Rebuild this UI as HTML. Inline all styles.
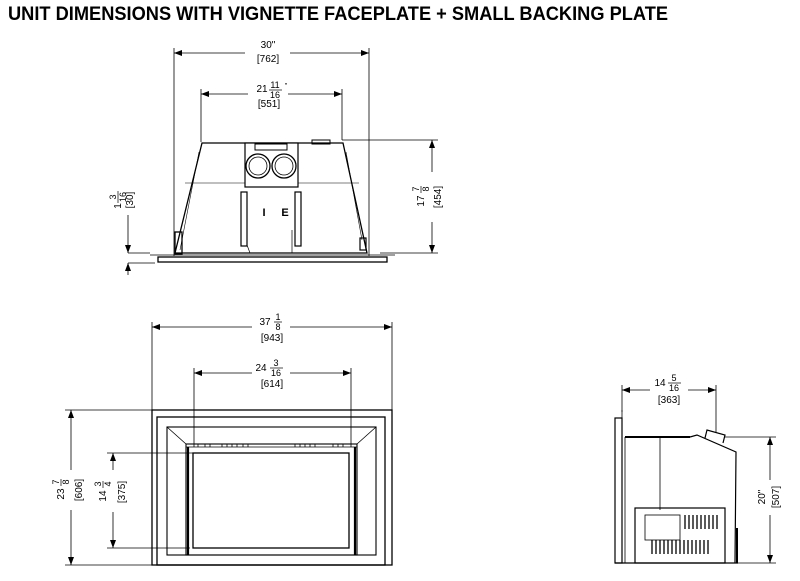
<!DOCTYPE html>
<html><head><style>html,body{margin:0;padding:0;background:#fff}svg{display:block}</style></head>
<body>
<svg width="800" height="581" viewBox="0 0 800 581" xmlns="http://www.w3.org/2000/svg" font-family="Liberation Sans, sans-serif">
<defs>
<marker id="a" markerWidth="8" markerHeight="6" refX="8" refY="3" orient="auto-start-reverse" markerUnits="userSpaceOnUse"><path d="M0,0 L8,3 L0,6 Z" fill="#000"/></marker>
</defs>
<text x="8" y="20" font-size="19" font-weight="bold" textLength="660" lengthAdjust="spacingAndGlyphs">UNIT DIMENSIONS WITH VIGNETTE FACEPLATE + SMALL BACKING PLATE</text>

<g stroke="#000" fill="none" stroke-width="0.8">
<!-- TOP VIEW -->
<line x1="174" y1="48" x2="174" y2="256"/><line x1="369" y1="48" x2="369" y2="256"/>
<line x1="174" y1="53" x2="245" y2="53" marker-start="url(#a)"/><line x1="290" y1="53" x2="369" y2="53" marker-end="url(#a)"/>
<line x1="201" y1="89" x2="201" y2="142"/><line x1="342" y1="89" x2="342" y2="140"/>
<line x1="342" y1="140" x2="438" y2="140"/>
<line x1="201" y1="94" x2="248" y2="94" marker-start="url(#a)"/><line x1="288" y1="94" x2="342" y2="94" marker-end="url(#a)"/>
<path d="M202,143 L343,143 L367,253 L175,253 Z" stroke-width="1.3"/>
<path d="M199,152 L180,250 M346,152 L362,240" stroke-width="0.6"/>
<line x1="185" y1="183" x2="359" y2="183" stroke-width="0.6"/>
<rect x="245" y="143" width="53" height="44" fill="#fff" stroke-width="1.2"/>
<rect x="255" y="144" width="32" height="6" stroke-width="1"/>
<rect x="312" y="140" width="18" height="4" stroke-width="1"/>
<circle cx="258" cy="166" r="12" stroke-width="1.3"/><circle cx="258" cy="166" r="9"/>
<circle cx="284" cy="166" r="12" stroke-width="1.3"/><circle cx="284" cy="166" r="9"/>
<rect x="241" y="192" width="6" height="54" stroke-width="1.2"/>
<rect x="295" y="192" width="6" height="54" stroke-width="1.2"/>
<path d="M247,245 L250,253 M292,230 L292,253" stroke-width="0.7"/>
<rect x="175" y="232" width="7" height="22" stroke-width="1.3"/>
<rect x="360" y="238" width="6" height="12" stroke-width="1.2"/>
<line x1="150" y1="255" x2="395" y2="255"/>
<rect x="158" y="257" width="229" height="5" stroke-width="1.3"/>
<line x1="128" y1="253" x2="150" y2="253"/><line x1="128" y1="263" x2="155" y2="263"/>
<line x1="128" y1="215" x2="128" y2="253" marker-end="url(#a)"/>
<line x1="128" y1="275" x2="128" y2="263" marker-end="url(#a)"/>
<line x1="432" y1="140" x2="432" y2="172" marker-start="url(#a)"/><line x1="432" y1="222" x2="432" y2="253" marker-end="url(#a)"/>
<line x1="380" y1="253" x2="438" y2="253"/>

<!-- FRONT VIEW -->
<line x1="152" y1="322" x2="152" y2="410"/><line x1="392" y1="322" x2="392" y2="410"/>
<line x1="152" y1="327" x2="252" y2="327" marker-start="url(#a)"/><line x1="290" y1="327" x2="392" y2="327" marker-end="url(#a)"/>
<line x1="194" y1="368" x2="194" y2="447"/><line x1="351" y1="368" x2="351" y2="447"/>
<line x1="194" y1="373" x2="252" y2="373" marker-start="url(#a)"/><line x1="290" y1="373" x2="351" y2="373" marker-end="url(#a)"/>
<rect x="152" y="410" width="240" height="155" stroke-width="1.3"/>
<rect x="157" y="417" width="228" height="148" stroke-width="1.3"/>
<rect x="167" y="427" width="209" height="128" stroke-width="1.1"/>
<rect x="186" y="444" width="171" height="111" stroke-width="1.1"/>
<line x1="167" y1="427" x2="186" y2="444"/><line x1="376" y1="427" x2="357" y2="444"/>
<line x1="186" y1="447" x2="357" y2="447"/>
<path d="M198,444v3M205,444v3M210,444v3M222,444v3M227,444v3M232,444v3M237,444v3M243,444v3M248,444v3M295,444v3M300,444v3M305,444v3M310,444v3M315,444v3M333,444v3M338,444v3M343,444v3"/>
<rect x="193" y="453" width="156" height="95" stroke-width="1.3"/>
<line x1="188" y1="447" x2="188" y2="555" stroke-width="2.2"/><line x1="355" y1="447" x2="355" y2="555" stroke-width="2.2"/>
<line x1="65" y1="410" x2="152" y2="410"/><line x1="65" y1="565" x2="152" y2="565"/>
<line x1="71" y1="410" x2="71" y2="470" marker-start="url(#a)"/><line x1="71" y1="510" x2="71" y2="565" marker-end="url(#a)"/>
<line x1="107" y1="453" x2="193" y2="453"/><line x1="107" y1="548" x2="190" y2="548"/>
<line x1="113" y1="453" x2="113" y2="470" marker-start="url(#a)"/><line x1="113" y1="512" x2="113" y2="548" marker-end="url(#a)"/>

<!-- SIDE VIEW -->
<line x1="622" y1="385" x2="622" y2="412"/><line x1="716" y1="385" x2="716" y2="433"/>
<line x1="622" y1="390" x2="650" y2="390" marker-start="url(#a)"/><line x1="688" y1="390" x2="716" y2="390" marker-end="url(#a)"/>
<rect x="615" y="418" width="7" height="145" stroke-width="1.2"/>
<line x1="622" y1="410" x2="622" y2="418"/>
<line x1="625" y1="437" x2="690" y2="437" stroke-width="2"/>
<path d="M690,437 L697,435 L736,452 L735,563" stroke-width="1.2"/>
<path d="M705,438 L707,430 L725,435 L723,443" stroke-width="1.2"/>
<line x1="625" y1="437" x2="625" y2="563"/>
<line x1="660" y1="437" x2="660" y2="510"/>
<rect x="635" y="508" width="90" height="55" stroke-width="1.2"/>
<rect x="645" y="515" width="35" height="25"/>
<line x1="615" y1="563" x2="738" y2="563" stroke-width="1.3"/>
<line x1="737" y1="528" x2="737" y2="563" stroke-width="2"/>
<line x1="725" y1="437" x2="776" y2="437"/><line x1="738" y1="563" x2="776" y2="563"/>
<line x1="770" y1="437" x2="770" y2="480" marker-start="url(#a)"/><line x1="770" y1="515" x2="770" y2="563" marker-end="url(#a)"/>
</g>
<g stroke="#000" stroke-width="1.3">
<path d="M685,515v14M689,515v14M693,515v14M697,515v14M701,515v14M705,515v14M709,515v14M713,515v14M717,515v14
M652,540v14M656,540v14M660,540v14M664,540v14M668,540v14M672,540v14M676,540v14M680,540v14M684,540v14M688,540v14M692,540v14M696,540v14M700,540v14M704,540v14M708,540v14"/>
</g>

<g font-size="10" text-anchor="middle" fill="#000">
<text x="268" y="48">30"</text><text x="268" y="62">[762]</text>
<text x="262" y="92">21</text><text x="275" y="88" font-size="9">11</text><line x1="269" y1="90" x2="282" y2="90" stroke="#000" stroke-width="0.7"/><text x="275" y="98" font-size="9">16</text><text x="286" y="88" font-size="7">"</text>
<text x="269" y="107">[551]</text>
<text x="264" y="216" font-weight="bold" font-size="11">I</text><text x="285" y="216" font-weight="bold" font-size="11">E</text>
<g transform="translate(424,197) rotate(-90)"><text x="-4" y="0">17</text><text x="8" y="-5" font-size="9">7</text><line x1="4" y1="-3" x2="11" y2="-3" stroke="#000" stroke-width="0.7"/><text x="8" y="5" font-size="9">8</text></g>
<g transform="translate(441,197) rotate(-90)"><text x="0" y="0">[454]</text></g>
<g transform="translate(121,200) rotate(-90)"><text x="-6" y="0">1</text><text x="3" y="-5" font-size="9">3</text><line x1="-3" y1="-3" x2="9" y2="-3" stroke="#000" stroke-width="0.7"/><text x="3" y="5" font-size="9">16</text></g>
<g transform="translate(133,200) rotate(-90)"><text x="0" y="0">[30]</text></g>

<text x="265" y="325">37</text><text x="278" y="320" font-size="9">1</text><line x1="274" y1="322" x2="282" y2="322" stroke="#000" stroke-width="0.7"/><text x="278" y="330" font-size="9">8</text>
<text x="272" y="341">[943]</text>
<text x="261" y="371">24</text><text x="276" y="366" font-size="9">3</text><line x1="270" y1="368" x2="283" y2="368" stroke="#000" stroke-width="0.7"/><text x="276" y="376" font-size="9">16</text>
<text x="272" y="387">[614]</text>
<g transform="translate(64,490) rotate(-90)"><text x="-4" y="0">23</text><text x="8" y="-5" font-size="9">7</text><line x1="4" y1="-3" x2="11" y2="-3" stroke="#000" stroke-width="0.7"/><text x="8" y="5" font-size="9">8</text></g>
<g transform="translate(82,490) rotate(-90)"><text x="0" y="0">[606]</text></g>
<g transform="translate(106,492) rotate(-90)"><text x="-4" y="0">14</text><text x="8" y="-5" font-size="9">3</text><line x1="4" y1="-3" x2="11" y2="-3" stroke="#000" stroke-width="0.7"/><text x="8" y="5" font-size="9">4</text></g>
<g transform="translate(125,492) rotate(-90)"><text x="0" y="0">[375]</text></g>

<text x="660" y="386">14</text><text x="674" y="381" font-size="9">5</text><line x1="668" y1="383" x2="681" y2="383" stroke="#000" stroke-width="0.7"/><text x="674" y="391" font-size="9">16</text>
<text x="669" y="403">[363]</text>
<g transform="translate(765,497) rotate(-90)"><text x="0" y="0">20"</text></g>
<g transform="translate(779,497) rotate(-90)"><text x="0" y="0">[507]</text></g>
</g>
</svg>
</body></html>
